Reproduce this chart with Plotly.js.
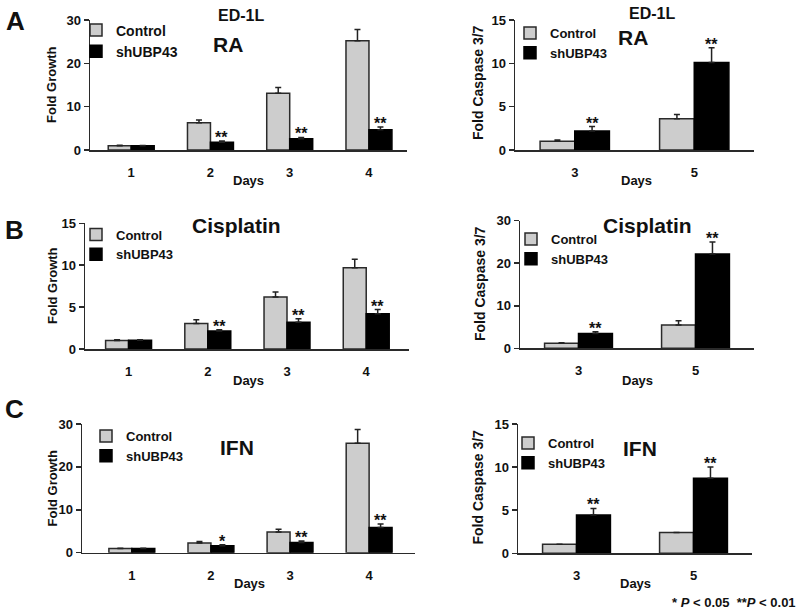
<!DOCTYPE html>
<html>
<head>
<meta charset="utf-8">
<script src="https://cdn.plot.ly/plotly-3.0.1.min.js"></script>
<style>html,body{margin:0;padding:0;background:#fff;}#chart{width:800px;height:612px;}</style>
</head>
<body>
<div id="chart"></div>
<script>
// ---- data ----
const daysGrowth = ["1", "2", "3", "4"];
const daysCaspase = ["3", "5"];
const seriesNames = ["Control", "shUBP43"];

// A: RA
const raGrowthCtrl    = [1.0, 6.3, 13.1, 25.2];
const raGrowthCtrlErr = [0.1, 0.6, 1.3, 2.6];
const raGrowthSh      = [1.0, 1.8, 2.6, 4.7];
const raGrowthShErr   = [0.05, 0.3, 0.3, 0.6];
const raGrowthStars   = ["", "**", "**", "**"];
const raCaspCtrl      = [1.0, 3.6];
const raCaspCtrlErr   = [0.15, 0.5];
const raCaspSh        = [2.2, 10.1];
const raCaspShErr     = [0.5, 1.7];
const raCaspStars     = ["**", "**"];

// B: Cisplatin
const cisGrowthCtrl    = [1.0, 3.05, 6.2, 9.7];
const cisGrowthCtrlErr = [0.1, 0.45, 0.6, 1.0];
const cisGrowthSh      = [1.05, 2.15, 3.2, 4.2];
const cisGrowthShErr   = [0.05, 0.15, 0.4, 0.5];
const cisGrowthStars   = ["", "**", "**", "**"];
const cisCaspCtrl      = [1.2, 5.5];
const cisCaspCtrlErr   = [0.1, 1.0];
const cisCaspSh        = [3.5, 22.2];
const cisCaspShErr     = [0.4, 2.8];
const cisCaspStars     = ["**", "**"];

// C: IFN
const ifnGrowthCtrl    = [1.0, 2.25, 4.85, 25.5];
const ifnGrowthCtrlErr = [0.05, 0.35, 0.6, 3.2];
const ifnGrowthSh      = [1.0, 1.6, 2.4, 5.9];
const ifnGrowthShErr   = [0.05, 0.25, 0.35, 0.8];
const ifnGrowthStars   = ["", "*", "**", "**"];
const ifnCaspCtrl      = [1.05, 2.4];
const ifnCaspCtrlErr   = [0, 0];
const ifnCaspSh        = [4.45, 8.7];
const ifnCaspShErr     = [0.75, 1.3];
const ifnCaspStars     = ["**", "**"];

// ---- layout helpers (pixel -> paper) ----
const W = 800, H = 612;
const px = v => v / W;
const py = v => 1 - v / H;
const FONT = "Liberation Sans, Arial, sans-serif";
const NARROW = "Liberation Sans Narrow, Liberation Sans, Arial, sans-serif";

const panels = [
  {days: daysGrowth, ctrl: raGrowthCtrl, ctrlErr: raGrowthCtrlErr, sh: raGrowthSh, shErr: raGrowthShErr, stars: raGrowthStars,
   xd: [90, 407], yd: [150, 20], xr: [-0.52, 3.48], yr: [0, 30], dt: 10, ytitle: "Fold Growth", yt: [52, 85, 13],
   leg: [76, 14.5], legFont: {size: 14, family: FONT}, days_lab: [248, 180]},
  {days: daysCaspase, ctrl: raCaspCtrl, ctrlErr: raCaspCtrlErr, sh: raCaspSh, shErr: raCaspShErr, stars: raCaspStars,
   xd: [515, 754], yd: [150, 20], xr: [-0.5, 1.5], yr: [0, 15], dt: 5, ytitle: "Fold Caspase 3/7", yt: [478, 83, 14],
   leg: [510, 18], legFont: {size: 13, family: FONT}, days_lab: [636, 180]},
  {days: daysGrowth, ctrl: cisGrowthCtrl, ctrlErr: cisGrowthCtrlErr, sh: cisGrowthSh, shErr: cisGrowthShErr, stars: cisGrowthStars,
   xd: [85, 409], yd: [349, 223.3], xr: [-0.55, 3.54], yr: [0, 15], dt: 5, ytitle: "Fold Growth", yt: [52, 286, 13],
   leg: [76, 219.5], legFont: {size: 13, family: NARROW}, days_lab: [248, 380]},
  {days: daysCaspase, ctrl: cisCaspCtrl, ctrlErr: cisCaspCtrlErr, sh: cisCaspSh, shErr: cisCaspShErr, stars: cisCaspStars,
   xd: [520, 754], yd: [348.3, 220.7], xr: [-0.5, 1.5], yr: [0, 30], dt: 10, ytitle: "Fold Caspase 3/7", yt: [480, 284, 14],
   leg: [511, 224], legFont: {size: 13, family: FONT}, days_lab: [637, 380]},
  {days: daysGrowth, ctrl: ifnGrowthCtrl, ctrlErr: ifnGrowthCtrlErr, sh: ifnGrowthSh, shErr: ifnGrowthShErr, stars: ifnGrowthStars,
   xd: [82, 415], yd: [552.7, 424], xr: [-0.63, 3.58], yr: [0, 30], dt: 10, ytitle: "Fold Growth", yt: [52, 488.5, 13],
   leg: [86, 421], legFont: {size: 13, family: FONT}, days_lab: [249, 583]},
  {days: daysCaspase, ctrl: ifnCaspCtrl, ctrlErr: ifnCaspCtrlErr, sh: ifnCaspSh, shErr: ifnCaspShErr, stars: ifnCaspStars,
   xd: [518, 752], yd: [553.3, 424], xr: [-0.5, 1.5], yr: [0, 15], dt: 5, ytitle: "Fold Caspase 3/7", yt: [478, 487.5, 14],
   leg: [508, 428], legFont: {size: 13, family: FONT}, days_lab: [635, 583]}
];

const traces = [];
const layout = {
  width: W, height: H,
  margin: {l: 0, r: 0, t: 0, b: 0, autoexpand: false},
  paper_bgcolor: "#ffffff", plot_bgcolor: "rgba(0,0,0,0)",
  font: {family: FONT, size: 13, color: "#111", weight: "bold"},
  barmode: "group", bargap: 0.42, bargroupgap: 0,
  showlegend: true, hovermode: false,
  annotations: []
};

const BAR_CTRL = "#cdcdcd", BAR_SH = "#000000", EDGE = "#2a2a2a";
const TXT = {family: FONT, color: "#111", weight: "bold"};
const f = size => Object.assign({size: size}, TXT);

panels.forEach((p, i) => {
  const n = i + 1;
  const sfx = n === 1 ? "" : String(n);
  const legName = n === 1 ? "legend" : "legend" + n;
  const zeros = p.ctrl.map(() => 0);
  traces.push({
    type: "bar", name: seriesNames[0], x: p.days, y: p.ctrl,
    xaxis: "x" + sfx, yaxis: "y" + sfx, legend: legName,
    marker: {color: BAR_CTRL, line: {color: EDGE, width: 1.5}},
    error_y: {type: "data", array: p.ctrlErr, arrayminus: zeros, symmetric: false,
              color: "#222", thickness: 1.5, width: 3}
  });
  traces.push({
    type: "bar", name: seriesNames[1], x: p.days, y: p.sh,
    xaxis: "x" + sfx, yaxis: "y" + sfx, legend: legName,
    marker: {color: BAR_SH, line: {color: BAR_SH, width: 1.5}},
    error_y: {type: "data", array: p.shErr, arrayminus: zeros, symmetric: false,
              color: "#222", thickness: 1.5, width: 3}
  });
  layout["xaxis" + sfx] = {
    domain: [px(p.xd[0]), px(p.xd[1])], anchor: "y" + sfx, type: "category",
    range: p.xr, showline: true, linecolor: EDGE, linewidth: 1.5,
    ticks: "", ticklabelstandoff: 10, showgrid: false, zeroline: false,
    tickfont: f(13), automargin: false, fixedrange: true
  };
  layout["yaxis" + sfx] = {
    domain: [py(p.yd[0]), py(p.yd[1])], anchor: "x" + sfx,
    range: p.yr, dtick: p.dt, tick0: 0, showline: true, linecolor: EDGE, linewidth: 1.5,
    ticks: "outside", ticklen: 5, tickwidth: 1.5, tickcolor: EDGE,
    showgrid: false, zeroline: false,
    tickfont: f(13), automargin: false, fixedrange: true
  };
  layout[legName] = {
    x: px(p.leg[0]), y: py(p.leg[1]), xanchor: "left", yanchor: "top",
    bgcolor: "rgba(0,0,0,0)", borderwidth: 0, tracegroupgap: 0,
    font: Object.assign({color: "#111", weight: "bold"}, p.legFont)
  };
  // y axis title
  layout.annotations.push({
    xref: "paper", yref: "paper", x: px(p.yt[0]), y: py(p.yt[1]), text: p.ytitle,
    textangle: -90, showarrow: false, xanchor: "center", yanchor: "middle", font: f(p.yt[2])
  });
  // significance stars above shUBP43 bars
  p.stars.forEach((s, k) => {
    if (!s) return;
    layout.annotations.push({
      xref: "x" + sfx, yref: "y" + sfx, x: k + 0.145, y: p.sh[k] + p.shErr[k],
      text: s, showarrow: false, xanchor: "center", yanchor: "bottom", yshift: -7,
      font: f(16)
    });
  });
  // x axis title "Days"
  layout.annotations.push({
    xref: "paper", yref: "paper", x: px(p.days_lab[0]), y: py(p.days_lab[1]),
    text: "Days", showarrow: false, xanchor: "center", yanchor: "middle", font: f(13)
  });
});

const texts = [
  {t: "A", x: 15, y: 21, s: 26}, {t: "B", x: 14, y: 230, s: 26}, {t: "C", x: 14, y: 409, s: 26},
  {t: "ED-1L", x: 241, y: 15, s: 16}, {t: "ED-1L", x: 652, y: 13, s: 16},
  {t: "RA", x: 228, y: 45, s: 21}, {t: "RA", x: 633, y: 37, s: 21},
  {t: "Cisplatin", x: 236, y: 225, s: 21}, {t: "Cisplatin", x: 647, y: 225, s: 21},
  {t: "IFN", x: 237, y: 448, s: 21}, {t: "IFN", x: 640, y: 449, s: 21}
];
texts.forEach(o => layout.annotations.push({
  xref: "paper", yref: "paper", x: px(o.x), y: py(o.y), text: o.t, showarrow: false,
  xanchor: "center", yanchor: "middle", font: f(o.s)
}));
layout.annotations.push({
  xref: "paper", yref: "paper", x: px(798), y: py(602),
  text: "* <i>P</i> < 0.05  **<i>P</i> < 0.01", showarrow: false,
  xanchor: "right", yanchor: "middle", font: f(13)
});

Plotly.newPlot("chart", traces, layout, {staticPlot: true, displayModeBar: false});
</script>
</body>
</html>
